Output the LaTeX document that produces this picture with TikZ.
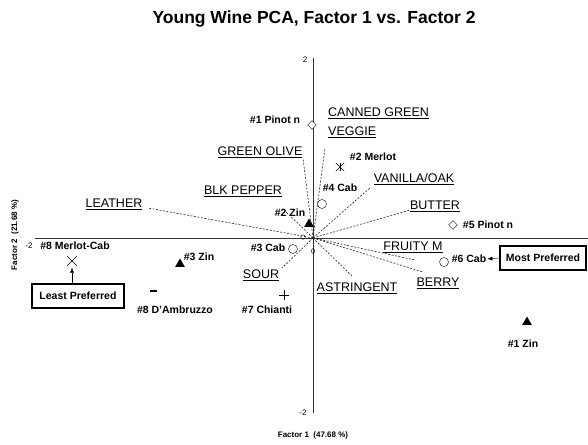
\documentclass[tikz,border=0pt]{standalone}
\usepackage{fontspec}
\setmainfont{Liberation Sans}
\usetikzlibrary{shapes.geometric,shapes.misc,arrows.meta}

\begin{document}
\begin{tikzpicture}[x=1pt,y=-1pt,
  smp/.style={font=\fontsize{10.5}{12}\selectfont\bfseries, inner sep=0pt},
  attr/.style={font=\fontsize{12.5}{19}\selectfont, inner sep=0pt},
  load/.style={draw=black!85, line width=0.6pt, dash pattern=on 2pt off 1.5pt},
  ring/.style={circle, draw, fill=white, minimum size=9pt, inner sep=0pt},
  tri/.style={regular polygon, regular polygon sides=3, fill=black, minimum size=11pt, inner sep=0pt},
  dia/.style={diamond, draw, fill=white, minimum size=9pt, inner sep=0pt},
  xmark/.style={cross out, draw, minimum size=8pt, inner sep=0pt},
  prefbox/.style={draw, line width=1.6pt, minimum width=86pt, minimum height=24pt, inner sep=0pt, font=\fontsize{10.5}{12}\selectfont\bfseries},
  axlbl/.style={font=\fontsize{8}{9}\selectfont\bfseries, inner sep=0pt}]
\useasboundingbox (0,0) rectangle (588,444);

% Title
\node[font=\fontsize{17.5}{20}\selectfont\bfseries] (title) at (314,19) {Young Wine PCA, Factor 1 vs. Factor 2};

% Axes
\coordinate (o) at (313,238);
\coordinate (vtop) at (313,58);
\coordinate (vbot) at (313,413);
\coordinate (hleft) at (35,238);
\coordinate (hright) at (588,238);
\draw[black!80, line width=0.6pt] (vtop) -- (vbot);
\draw[black!80, line width=0.6pt] (hleft) -- (hright);
\node[axlbl, font=\fontsize{8}{9}\selectfont] (ytop) at (305,60) {2};
\node[axlbl, font=\fontsize{8}{9}\selectfont] (ybot) at (303,413) {-2};
\node[axlbl, font=\fontsize{8}{9}\selectfont] (xleft) at (29,246) {-2};
\node[axlbl] (xname) at (313,435) {Factor 1\ \ (47.68 \%)};
\node[axlbl, rotate=90] (yname) at (15,235) {Factor 2\ \ (21.68 \%)};

% Attribute loadings
\coordinate (canned-end) at (325,148);
\coordinate (olive-end) at (303,158);
\coordinate (vanilla-end) at (371,187);
\coordinate (butter-end) at (410,210);
\coordinate (leather-end) at (148,208);
\coordinate (pepper-end) at (284,210);
\coordinate (fruity-end) at (415,260);
\coordinate (berry-end) at (423,272);
\coordinate (astr-end) at (353,277);
\coordinate (sour-end) at (282,268);
\foreach \e in {canned,olive,vanilla,butter,leather,pepper,fruity,berry,astr,sour}
  \draw[load] (o) -- (\e-end);
\node[circle, draw, inner sep=0pt, minimum size=4.5pt, line width=0.4pt] (c0a) at (303,237) {};
\node[ellipse, draw, inner sep=0pt, minimum width=3pt, minimum height=5pt, line width=0.4pt] (c0b) at (313,251) {};

\node[attr, anchor=west, align=left] (canned) at (328,122.5) {\underline{CANNED GREEN}\\\underline{VEGGIE}};
\node[attr] (olive) at (260,152) {\underline{GREEN OLIVE}};
\node[attr] (vanilla) at (414,179) {\underline{VANILLA/OAK}};
\node[attr] (pepper) at (243,191) {\underline{BLK PEPPER}};
\node[attr] (butter) at (435,206) {\underline{BUTTER}};
\node[attr] (leather) at (114,204) {\underline{LEATHER}};
\node[attr] (fruity) at (413,247) {\underline{FRUITY M}};
\node[attr] (sour) at (261,275) {\underline{SOUR}};
\node[attr] (berry) at (438,283) {\underline{BERRY}};
\node[attr] (astr) at (357,288) {\underline{ASTRINGENT}};

% Wines
\node[dia] (p1) at (312,125) {};
\node[smp] (p1lbl) at (275,120) {\#1 Pinot n};
\node[xmark] (m2) at (340,167) {};
\draw (m2.north) -- (m2.south);
\node[smp] (m2lbl) at (373,157) {\#2 Merlot};
\node[ring] (c4) at (322,204) {};
\node[smp] (c4lbl) at (340,188) {\#4 Cab};
\node[tri] (z2) at (309,224) {};
\node[smp] (z2lbl) at (290,213) {\#2 Zin};
\node[dia] (p5) at (453,225) {};
\node[smp] (p5lbl) at (488,225) {\#5 Pinot n};
\node[ring] (c3) at (293,249) {};
\node[smp] (c3lbl) at (268,248) {\#3 Cab};
\node[xmark, minimum size=9pt] (m8) at (72,261) {};
\node[smp] (m8lbl) at (75,246) {\#8 Merlot-Cab};
\node[tri] (z3) at (180,264) {};
\node[smp] (z3lbl) at (199,257) {\#3 Zin};
\node[fill=black, minimum width=7pt, minimum height=2.5pt, inner sep=0pt] (d8) at (153,291) {};
\node[smp] (d8lbl) at (175,310) {\#8 D'Ambruzzo};
\node[minimum size=10pt, inner sep=0pt] (c7) at (284,295) {};
\draw[line width=0.5pt] (c7.north) -- (c7.south) (c7.west) -- (c7.east);
\node[smp] (c7lbl) at (267,310) {\#7 Chianti};
\node[ring] (c6) at (444,262) {};
\node[smp] (c6lbl) at (469,259) {\#6 Cab};
\node[tri] (z1) at (527,322) {};
\node[smp] (z1lbl) at (523,344) {\#1 Zin};

% Preference boxes
\node[prefbox, minimum width=92pt] (least) at (78,296) {Least Preferred};
\node[prefbox] (most) at (543,258) {Most Preferred};
\draw[-{Latex[length=5pt,width=4pt]}, shorten >=2pt] (least.north -| m8) -- (m8.south);
\draw[-{Latex[length=5pt,width=4pt]}, shorten >=1pt] (most.west) -- (c6lbl.east);
\end{tikzpicture}
\end{document}
